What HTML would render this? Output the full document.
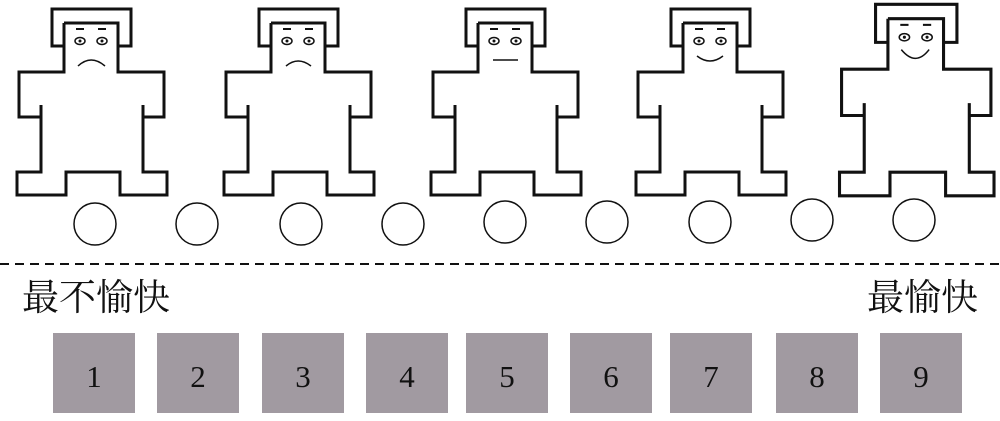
<!DOCTYPE html>
<html><head><meta charset="utf-8"><style>
body{margin:0;background:#fff;width:1000px;height:417px;overflow:hidden;position:relative;font-family:"Liberation Serif","Noto Serif CJK SC",serif}
.b{position:absolute;top:333px;width:82px;height:80px;background:#a19aa1;font-size:31px;text-align:center;line-height:88px;color:#111}
.l{position:absolute;top:277px;font-size:37px;line-height:44px;font-family:"Liberation Serif","Noto Serif CJK SC",serif;color:#111}
</style></head><body>
<svg width="1000" height="417" style="position:absolute;left:0;top:0">
<defs>
<g id="f" fill="none" stroke="#111" stroke-width="3">
<path d="M64,23 L118,23 L118,72 L164,72 L164,117 L143,117 M143,105 L143,172 L167,172 L167,195 L120,195 L120,172 L66,172 L66,195 L17,195 L17,172 L41,172 L41,105 M41,117 L19,117 L19,72 L64,72 L64,23"/>
<path d="M64,46 L52,46 L52,9 L131,9 L131,46 L118,46"/>
<g stroke-width="1.5"><ellipse cx="80" cy="41" rx="5" ry="3.5"/><ellipse cx="102" cy="41" rx="5" ry="3.5"/></g>
<g stroke-width="2"><line x1="76" y1="29" x2="84" y2="29"/><line x1="98" y1="29" x2="106" y2="29"/></g>
<circle cx="80" cy="41" r="1.5" fill="#111" stroke="none"/><circle cx="102" cy="41" r="1.5" fill="#111" stroke="none"/>
</g>
</defs>
<use href="#f" x="0" y="0"/>
<path d="M78,66 Q91,54 105,66" fill="none" stroke="#111" stroke-width="1.5"/>
<use href="#f" x="207" y="0"/>
<path d="M286,66 Q298,56 311,66" fill="none" stroke="#111" stroke-width="1.5"/>
<use href="#f" x="414" y="0"/>
<path d="M493,60 L518,60" stroke="#111" stroke-width="1.5"/>
<use href="#f" x="619" y="0"/>
<path d="M697,56 Q710,66 723,56" fill="none" stroke="#111" stroke-width="1.5"/>
<g transform="translate(822,-5) scale(1.03)"><use href="#f"/><path d="M77,53 Q91,70 104,53" fill="none" stroke="#111" stroke-width="1.5"/></g>
<g fill="none" stroke="#111" stroke-width="1.5">
<circle cx="95" cy="224" r="21"/><circle cx="197" cy="224" r="21"/><circle cx="301" cy="224" r="21"/>
<circle cx="403" cy="224" r="21"/><circle cx="505" cy="222" r="21"/><circle cx="607" cy="222" r="21"/>
<circle cx="710" cy="222" r="21"/><circle cx="812" cy="220" r="21"/><circle cx="914" cy="220" r="21"/>
</g>
<line x1="0" y1="264" x2="1000" y2="264" stroke="#111" stroke-width="2" stroke-dasharray="9,6"/>
</svg>
<div class="l" style="left:22px">最不愉快</div>
<div class="l" style="left:867px">最愉快</div>
<div class="b" style="left:53px">1</div>
<div class="b" style="left:157px">2</div>
<div class="b" style="left:262px">3</div>
<div class="b" style="left:366px">4</div>
<div class="b" style="left:466px">5</div>
<div class="b" style="left:570px">6</div>
<div class="b" style="left:670px">7</div>
<div class="b" style="left:776px">8</div>
<div class="b" style="left:880px">9</div>
</body></html>
